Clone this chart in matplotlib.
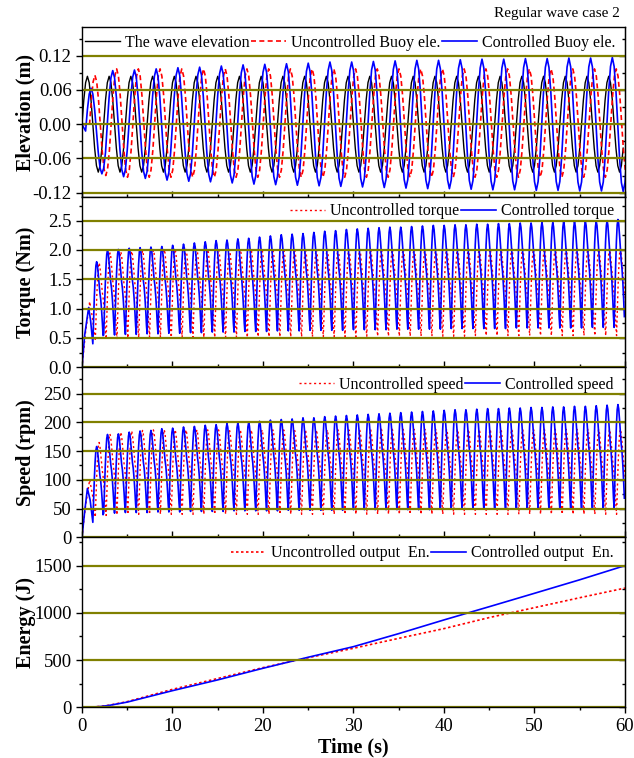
import matplotlib
matplotlib.use("Agg")
import matplotlib.pyplot as plt
from matplotlib.ticker import MultipleLocator, FormatStrFormatter

plt.rcParams['font.family'] = ['Liberation Serif', 'DejaVu Serif']
plt.rcParams['axes.unicode_minus'] = False

# ---------------- data ----------------
# elevation (m): one peak / trough per wave period (2.4 s)
wave_period = 2.4
wave_high = [0.084] * 25
wave_low = [-0.084] * 25
unc_buoy_high = [0.086] + [0.097] * 24
unc_buoy_low = [-0.090] + [-0.093] * 24
con_buoy_high = [0.063, 0.094, 0.095, 0.097, 0.099, 0.100, 0.102, 0.104, 0.105,
                 0.106, 0.107, 0.109, 0.109, 0.110, 0.111, 0.112, 0.112, 0.113,
                 0.114, 0.114, 0.115, 0.115, 0.116, 0.116, 0.117]
con_buoy_low = [-0.087, -0.092, -0.095, -0.098, -0.100, -0.101, -0.103, -0.105,
                -0.106, -0.107, -0.108, -0.109, -0.110, -0.111, -0.112, -0.113,
                -0.113, -0.114, -0.115, -0.115, -0.116, -0.116, -0.117, -0.117, -0.118]
# one wave period, fraction of period -> fraction between trough and peak
wave_phase = [0.0, 0.083, 0.167, 0.25, 0.333, 0.417, 0.5, 0.583, 0.667, 0.75, 0.833, 0.917]
wave_level = [0.5, 0.75, 0.933, 1.0, 0.933, 0.75, 0.5, 0.25, 0.067, 0.0, 0.067, 0.25]

# torque (Nm) and speed (rpm): one peak / trough per half wave period (1.2 s)
pto_period = 1.2
pto_phase = [0.0, 0.07, 0.14, 0.21, 0.28, 0.35, 0.42, 0.50, 0.58, 0.65, 0.72, 0.80, 0.88, 0.94]
pto_level = [0.0, 0.30, 0.58, 0.80, 0.95, 1.0, 0.96, 0.85, 0.72, 0.62, 0.55, 0.42, 0.25, 0.10]

con_torque_start_t = [0.0, 0.3, 0.74, 0.95]
con_torque_start_v = [0.0, 0.55, 1.02, 0.80]
con_torque_high = [1.80, 2.00, 2.01, 2.03, 2.04, 2.05, 2.06, 2.08, 2.10, 2.12,
                   2.14, 2.16, 2.17, 2.19, 2.20, 2.22, 2.24, 2.26, 2.27, 2.28,
                   2.30, 2.32, 2.33, 2.35, 2.36, 2.37, 2.38, 2.39, 2.39, 2.40,
                   2.41, 2.42, 2.42, 2.43, 2.43, 2.44, 2.44, 2.45, 2.45, 2.46,
                   2.46, 2.47, 2.47, 2.48, 2.48, 2.49, 2.49, 2.50, 2.52]
con_torque_low = [0.40, 0.55, 0.55, 0.56, 0.56, 0.57, 0.57, 0.58, 0.58, 0.59,
                  0.59, 0.60, 0.60, 0.60, 0.61, 0.61, 0.61, 0.62, 0.62, 0.62,
                  0.63, 0.63, 0.63, 0.63, 0.64, 0.64, 0.64, 0.64, 0.65, 0.65,
                  0.65, 0.65, 0.65, 0.66, 0.66, 0.66, 0.66, 0.66, 0.66, 0.67,
                  0.67, 0.67, 0.67, 0.67, 0.67, 0.67, 0.68, 0.68, 0.68]
unc_torque_start_t = [0.0, 0.4, 0.85, 1.15]
unc_torque_start_v = [0.0, 0.60, 1.12, 0.85]
unc_torque_high = [1.78, 1.95, 1.97, 1.98, 1.99, 2.00] + [2.01] * 20 + [2.02] * 23
unc_torque_low = [0.45, 0.48, 0.49, 0.50, 0.50] + [0.51] * 10 + [0.52] * 10 + [0.53] * 10 + [0.54] * 14

con_speed_start_t = [0.0, 0.3, 0.6, 0.9]
con_speed_start_v = [0.0, 45, 85, 65]
con_speed_high = [158, 179, 180, 183, 185, 186, 189, 190, 192, 193,
                  195, 196, 198, 199, 200, 202, 204, 205, 206, 208,
                  208, 210, 211, 212, 213, 214, 215, 216, 217, 218,
                  219, 220, 221, 222, 222, 223, 224, 224, 225, 225,
                  226, 226, 227, 227, 228, 228, 229, 230, 231]
con_speed_low = [26, 42, 42, 43, 43, 43, 44, 44, 44, 45,
                 45, 45, 45, 46, 46, 46, 46, 46, 47, 47,
                 47, 47, 47, 47, 48, 48, 48, 48, 48, 48,
                 48, 48, 49, 49, 49, 49, 49, 49, 49, 49,
                 49, 49, 49, 49, 49, 49, 50, 50, 50]
unc_speed_start_t = [0.0, 0.4, 0.85, 1.15]
unc_speed_start_v = [0.0, 55, 100, 75]
unc_speed_high = [165, 180, 183, 185, 186] + [187] * 20 + [188] * 24
unc_speed_low = [35, 38, 39] + [40] * 46

# energy (J)
energy_t = [0, 1, 2, 3, 5, 10, 15, 20, 25, 30, 35, 40, 45, 50, 55, 60]
con_energy = [0, 2, 8, 20, 55, 176, 290, 413, 530, 642, 780, 925, 1065, 1207, 1350, 1500]
unc_energy = [0, 2, 9, 22, 60, 190, 305, 420, 525, 625, 730, 833, 950, 1055, 1160, 1262]


def cycles(t0, period, phase, level, lows, highs, start_t=(), start_v=()):
    t, y = list(start_t), list(start_v)
    for k in range(len(highs)):
        for p, s in zip(phase, level):
            t.append(t0 + (k + p) * period)
            y.append(lows[k] + s * (highs[k] - lows[k]))
    return t, y


grid_c = '#808000'
red = '#ff0000'
blue = '#0000ff'

fig = plt.figure(figsize=(6.34, 7.58), dpi=100)
L, W, H = 0.1293, 0.8565, 0.2243
bottoms = [0.7398, 0.5155, 0.2912, 0.0669]
axes = [fig.add_axes([L, b, W, H]) for b in bottoms]
ax1, ax2, ax3, ax4 = axes

# elevation
t, y = cycles(0.0, wave_period, wave_phase, wave_level, wave_low, wave_high)
ax1.plot(t, y, color='black', lw=1.0, label='The wave elevation')
t, y = cycles(0.83, wave_period, wave_phase, wave_level, unc_buoy_low, unc_buoy_high, [0.0], [0.0])
ax1.plot(t, y, color=red, lw=1.2, dashes=(3, 2), label='Uncontrolled Buoy ele.')
t, y = cycles(0.4, wave_period, wave_phase, wave_level, con_buoy_low, con_buoy_high, [0.0], [0.0])
ax1.plot(t, y, color=blue, lw=1.2, label='Controlled Buoy ele.')

# torque
t, y = cycles(1.47, pto_period, pto_phase, pto_level, unc_torque_low, unc_torque_high,
              unc_torque_start_t, unc_torque_start_v)
ax2.plot(t, y, color=red, lw=1.0, dashes=(1.5, 2), label='Uncontrolled torque')
t, y = cycles(1.2, pto_period, pto_phase, pto_level, con_torque_low, con_torque_high,
              con_torque_start_t, con_torque_start_v)
ax2.plot(t, y, color=blue, lw=1.2, label='Controlled torque')

# speed
t, y = cycles(1.47, pto_period, pto_phase, pto_level, unc_speed_low, unc_speed_high,
              unc_speed_start_t, unc_speed_start_v)
ax3.plot(t, y, color=red, lw=1.0, dashes=(1.5, 2), label='Uncontrolled speed')
t, y = cycles(1.2, pto_period, pto_phase, pto_level, con_speed_low, con_speed_high,
              con_speed_start_t, con_speed_start_v)
ax3.plot(t, y, color=blue, lw=1.2, label='Controlled speed')

# energy
ax4.plot(energy_t, unc_energy, color=red, lw=1.2, dashes=(1.5, 1.5), label='Uncontrolled output  En.')
ax4.plot(energy_t, con_energy, color=blue, lw=1.2, label='Controlled output  En.')

ylims = [(-0.128, 0.170), (0, 2.9), (0, 296), (0, 1800)]
majors = [0.06, 0.5, 50, 500]
fmts = ['%.2f', '%.1f', '%d', '%d']
ylabels = ['Elevation (m)', 'Torque (Nm)', 'Speed (rpm)', 'Energy (J)']

for i, ax in enumerate(axes):
    ax.set_xlim(0, 60)
    ax.set_ylim(*ylims[i])
    ax.xaxis.set_major_locator(MultipleLocator(10))
    ax.xaxis.set_minor_locator(MultipleLocator(5))
    ax.yaxis.set_major_locator(MultipleLocator(majors[i]))
    ax.yaxis.set_minor_locator(MultipleLocator(majors[i] / 2))
    ax.yaxis.set_major_formatter(FormatStrFormatter(fmts[i]))
    ax.tick_params(axis='y', which='both', direction='out', labelsize=13.5, left=True, right=False)
    ax.tick_params(axis='y', which='major', length=4, width=1)
    ax.tick_params(axis='y', which='minor', length=2.5, width=1)
    ax.tick_params(axis='x', which='both', top=False, labelsize=13.5,
                   direction='out' if i == 3 else 'in', labelbottom=(i == 3))
    ax.tick_params(axis='x', which='major', length=4, width=1)
    ax.tick_params(axis='x', which='minor', length=2.5, width=1)
    ax.set_axisbelow(False)
    ax.yaxis.grid(True, color=grid_c, lw=1.6)
    for s in ax.spines.values():
        s.set_linewidth(1.0)
        s.set_zorder(5)
    sec = ax.secondary_yaxis('right')
    sec.yaxis.set_major_locator(MultipleLocator(majors[i]))
    sec.yaxis.set_minor_locator(MultipleLocator(majors[i] / 2))
    sec.tick_params(axis='y', which='both', direction='in', labelright=False)
    sec.tick_params(axis='y', which='major', length=4, width=1)
    sec.tick_params(axis='y', which='minor', length=2.5, width=1)
    ax.set_ylabel(ylabels[i], fontsize=14.5, fontweight='bold')
    ax.yaxis.set_label_coords(-0.085, 0.5)

leg_kw = dict(frameon=False, fontsize=11.5, handlelength=2.2, handletextpad=0.3,
              columnspacing=0.1, borderaxespad=0, borderpad=0.2)
ax1.legend(loc='center left', bbox_to_anchor=(0.0, 0.908), ncol=3, **leg_kw)
ax2.legend(loc='center right', bbox_to_anchor=(0.985, 0.918), ncol=2, **leg_kw)
ax3.legend(loc='center right', bbox_to_anchor=(0.985, 0.898), ncol=2, **leg_kw)
ax4.legend(loc='center right', bbox_to_anchor=(0.985, 0.906), ncol=2, **leg_kw)

ax4.set_xlabel('Time (s)', fontsize=14.5, fontweight='bold', labelpad=2)
fig.text(620 / 634, 1 - 14 / 758, 'Regular wave case 2', ha='right', va='center', fontsize=11)

fig.savefig('out.png', dpi=100)
